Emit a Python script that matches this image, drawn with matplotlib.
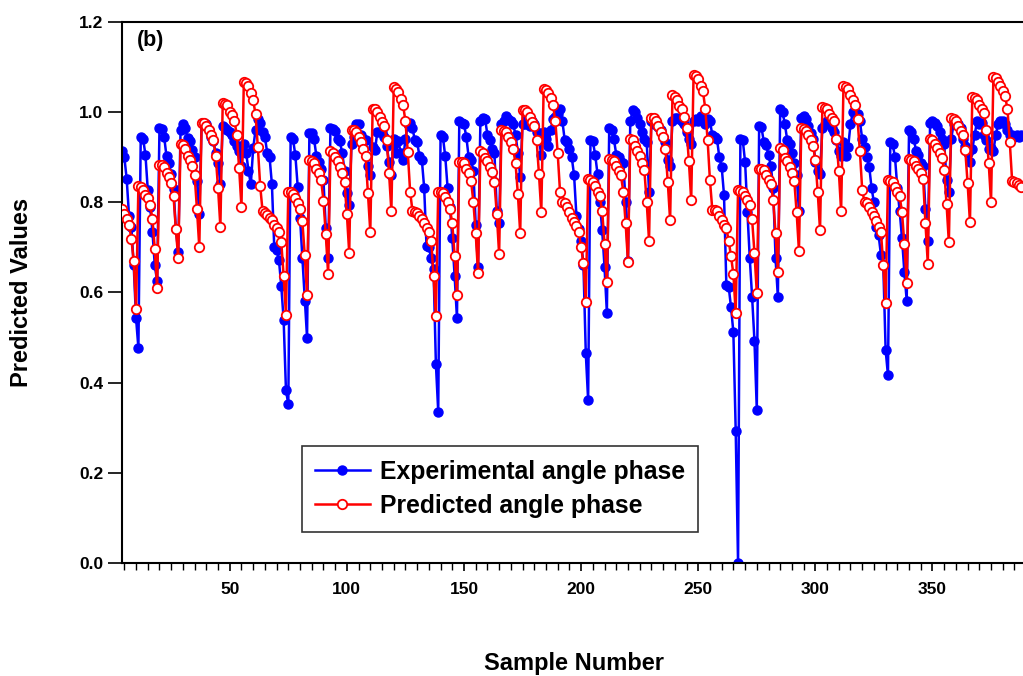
import numpy as np
import matplotlib
matplotlib.use("Agg")
import matplotlib.pyplot as plt

plt.rcParams['font.family'] = ['Liberation Sans', 'DejaVu Sans']
plt.rcParams['font.weight'] = 'bold'

# predicted angle phase (red), samples 4..388
pred_start = [0.785, 0.774, 0.763, 0.750, 0.719, 0.670, 0.563]
pred_c1 = [0.836, 0.834, 0.828, 0.817, 0.809, 0.795, 0.763, 0.696, 0.610,
           0.883, 0.883, 0.879, 0.865, 0.856, 0.842, 0.813, 0.740, 0.676,
           0.930, 0.927, 0.918, 0.903, 0.895, 0.880, 0.860, 0.785, 0.700,
           0.977, 0.975, 0.970, 0.960, 0.950, 0.938, 0.903, 0.832, 0.746,
           1.021, 1.019, 1.015, 1.000, 0.993, 0.981, 0.950, 0.876, 0.790,
           1.066, 1.064, 1.058, 1.043, 1.026, 0.996, 0.922, 0.836, 0.781, 0.777,
           0.773, 0.765, 0.760, 0.750, 0.742, 0.735, 0.711, 0.637, 0.551]
pred_c2 = [0.824, 0.824, 0.819, 0.809, 0.799, 0.785, 0.758, 0.684, 0.594,
           0.893, 0.891, 0.887, 0.875, 0.864, 0.850, 0.804, 0.729, 0.641,
           0.914, 0.910, 0.901, 0.891, 0.879, 0.864, 0.844, 0.774, 0.688,
           0.961, 0.961, 0.957, 0.945, 0.934, 0.918, 0.903, 0.820, 0.735,
           1.008, 1.006, 1.000, 0.989, 0.979, 0.969, 0.938, 0.865, 0.781,
           1.055, 1.051, 1.045, 1.030, 1.016, 0.980, 0.912, 0.824, 0.781, 0.779,
           0.776, 0.770, 0.762, 0.754, 0.742, 0.735, 0.715, 0.637, 0.547]
pred_c3 = [0.824, 0.822, 0.820, 0.812, 0.801, 0.785, 0.754, 0.680, 0.594,
           0.890, 0.890, 0.887, 0.875, 0.864, 0.848, 0.801, 0.731, 0.643,
           0.914, 0.910, 0.899, 0.891, 0.879, 0.868, 0.844, 0.774, 0.685,
           0.960, 0.958, 0.957, 0.945, 0.934, 0.918, 0.887, 0.818, 0.732,
           1.005, 1.004, 1.000, 0.989, 0.979, 0.969, 0.938, 0.863, 0.778,
           1.052, 1.050, 1.043, 1.031, 1.016, 0.980, 0.909, 0.823, 0.800, 0.798,
           0.790, 0.778, 0.765, 0.757, 0.748, 0.735, 0.700, 0.665, 0.578]
pred_c4 = [0.852, 0.850, 0.846, 0.836, 0.824, 0.813, 0.781, 0.707, 0.623,
           0.896, 0.895, 0.891, 0.881, 0.870, 0.860, 0.824, 0.754, 0.668,
           0.941, 0.938, 0.926, 0.914, 0.902, 0.887, 0.871, 0.800, 0.715,
           0.988, 0.986, 0.980, 0.969, 0.957, 0.945, 0.918, 0.844, 0.760,
           1.037, 1.034, 1.027, 1.014, 1.006, 0.990, 0.965, 0.891, 0.805,
           1.082, 1.080, 1.074, 1.059, 1.047, 1.008, 0.938, 0.849, 0.784, 0.782,
           0.780, 0.770, 0.760, 0.750, 0.742, 0.715, 0.680, 0.641, 0.555]
pred_c5 = [0.828, 0.826, 0.824, 0.813, 0.805, 0.793, 0.762, 0.688, 0.600,
           0.875, 0.875, 0.871, 0.860, 0.850, 0.840, 0.805, 0.732, 0.646,
           0.920, 0.915, 0.899, 0.891, 0.879, 0.864, 0.848, 0.778, 0.692,
           0.965, 0.963, 0.959, 0.949, 0.938, 0.926, 0.895, 0.823, 0.738,
           1.012, 1.010, 1.006, 0.996, 0.988, 0.981, 0.941, 0.870, 0.781,
           1.057, 1.055, 1.051, 1.039, 1.028, 1.016, 0.984, 0.914, 0.828, 0.800,
           0.798, 0.790, 0.778, 0.770, 0.758, 0.745, 0.735, 0.660, 0.576]
pred_c6 = [0.849, 0.848, 0.844, 0.834, 0.824, 0.813, 0.778, 0.707, 0.621,
           0.896, 0.895, 0.891, 0.881, 0.873, 0.864, 0.852, 0.754, 0.664,
           0.940, 0.938, 0.930, 0.920, 0.910, 0.899, 0.871, 0.797, 0.711,
           0.987, 0.984, 0.980, 0.969, 0.959, 0.949, 0.916, 0.842, 0.756,
           1.034, 1.031, 1.026, 1.016, 1.008, 0.998, 0.961, 0.887, 0.801,
           1.078, 1.075, 1.067, 1.059, 1.047, 1.035, 1.008, 0.934, 0.848, 0.845,
           0.843, 0.838, 0.833]

# experimental angle phase (blue)
exp_start = [0.914, 0.900, 0.852, 0.770, 0.745, 0.660, 0.543, 0.477]
exp_c1 = [0.945, 0.941, 0.906, 0.828, 0.790, 0.735, 0.660, 0.625,
          0.965, 0.963, 0.945, 0.902, 0.887, 0.863, 0.830, 0.740, 0.690,
          0.961, 0.973, 0.965, 0.943, 0.935, 0.915, 0.900, 0.848, 0.774,
          0.977, 0.975, 0.973, 0.960, 0.945, 0.935, 0.910, 0.887, 0.840,
          0.970, 0.965, 0.960, 0.955, 0.950, 0.935, 0.925, 0.914, 0.880,
          0.930, 0.910, 0.870, 0.840, 0.920, 0.960, 0.985, 0.975, 0.955, 0.945,
          0.910, 0.900, 0.840, 0.700, 0.695, 0.672, 0.614, 0.540, 0.383, 0.352]
exp_c2 = [0.945, 0.940, 0.905, 0.835, 0.766, 0.676, 0.582, 0.500,
          0.953, 0.953, 0.940, 0.902, 0.890, 0.875, 0.850, 0.742, 0.676,
          0.965, 0.962, 0.958, 0.941, 0.935, 0.910, 0.870, 0.820, 0.793,
          0.930, 0.945, 0.973, 0.973, 0.950, 0.941, 0.938, 0.880, 0.860,
          0.922, 0.915, 0.957, 0.955, 0.957, 0.945, 0.925, 0.890, 0.860,
          0.940, 0.910, 0.935, 0.910, 0.895, 0.940, 0.973, 0.975, 0.965, 0.938,
          0.934, 0.902, 0.895, 0.832, 0.703, 0.700, 0.676, 0.653, 0.442, 0.336]
exp_c3 = [0.950, 0.945, 0.902, 0.832, 0.790, 0.720, 0.637, 0.543,
          0.980, 0.976, 0.973, 0.945, 0.900, 0.895, 0.870, 0.750, 0.657,
          0.980, 0.988, 0.985, 0.950, 0.938, 0.918, 0.910, 0.780, 0.754,
          0.973, 0.980, 0.992, 0.985, 0.980, 0.973, 0.950, 0.910, 0.856,
          0.973, 0.973, 0.985, 0.969, 0.980, 0.973, 0.957, 0.938, 0.905,
          0.955, 0.940, 0.925, 0.960, 0.985, 0.990, 0.995, 1.008, 0.980, 0.938,
          0.934, 0.918, 0.900, 0.860, 0.770, 0.740, 0.715, 0.660, 0.465, 0.361]
exp_c4 = [0.938, 0.935, 0.906, 0.863, 0.800, 0.738, 0.656, 0.555,
          0.965, 0.960, 0.940, 0.906, 0.900, 0.890, 0.887, 0.800, 0.670,
          0.980, 1.004, 1.000, 0.988, 0.973, 0.957, 0.941, 0.934, 0.824,
          0.980, 0.973, 0.973, 0.966, 0.961, 0.945, 0.934, 0.895, 0.880,
          0.980, 0.988, 0.988, 0.984, 0.980, 0.973, 0.957, 0.941, 0.930,
          0.980, 0.984, 0.980, 0.992, 0.988, 0.973, 0.984, 0.980, 0.950, 0.945,
          0.941, 0.900, 0.879, 0.817, 0.617, 0.613, 0.567, 0.512, 0.293, 0.000]
exp_c5 = [0.941, 0.938, 0.890, 0.778, 0.676, 0.590, 0.493, 0.340,
          0.969, 0.966, 0.934, 0.927, 0.905, 0.880, 0.832, 0.676, 0.590,
          1.008, 1.000, 0.973, 0.938, 0.930, 0.910, 0.887, 0.860, 0.781,
          0.988, 0.992, 0.984, 0.969, 0.953, 0.941, 0.890, 0.870, 0.863,
          0.965, 0.973, 0.980, 0.973, 0.965, 0.957, 0.938, 0.914, 0.902,
          0.934, 0.902, 0.922, 0.973, 1.000, 1.000, 0.995, 0.980, 0.941, 0.922,
          0.900, 0.879, 0.832, 0.800, 0.746, 0.727, 0.684, 0.660, 0.473, 0.416]
exp_c6 = [0.934, 0.930, 0.900, 0.832, 0.780, 0.720, 0.645, 0.582,
          0.961, 0.957, 0.941, 0.914, 0.906, 0.887, 0.880, 0.785, 0.715,
          0.977, 0.980, 0.977, 0.969, 0.957, 0.941, 0.930, 0.850, 0.824,
          0.941, 0.973, 0.973, 0.973, 0.965, 0.941, 0.925, 0.910, 0.890,
          0.918, 0.949, 0.980, 0.973, 0.977, 0.949, 0.938, 0.918, 0.920,
          0.914, 0.949, 0.973, 0.980, 0.980, 0.973, 0.960, 0.950, 0.950, 0.945,
          0.950, 0.945, 0.950]

predicted = pred_start + pred_c1 + pred_c2 + pred_c3 + pred_c4 + pred_c5 + pred_c6
experimental = exp_start + exp_c1 + exp_c2 + exp_c3 + exp_c4 + exp_c5 + exp_c6
first_sample = 4
samples = np.arange(first_sample, first_sample + len(predicted))

W, H = 1023, 676
fig = plt.figure(figsize=(W / 100, H / 100), dpi=100)
ax = fig.add_axes([122 / W, (H - 563) / H, 903 / W, 541 / H])

ax.plot(samples, experimental, '-o', color='blue', lw=1.8, ms=6.5,
        mfc='blue', mec='blue', label='Experimental angle phase', zorder=2)
ax.plot(samples, predicted, '-o', color='red', lw=1.8, ms=6.8,
        mfc='white', mec='red', mew=1.3, label='Predicted angle phase', zorder=3)

ax.set_xlim(first_sample, first_sample + 385.5)
ax.set_ylim(0, 1.2)
ax.set_xticks([50, 100, 150, 200, 250, 300, 350])
ax.set_xticks(np.arange(5, 390, 5), minor=True)
ax.set_yticks(np.arange(0, 1.21, 0.2))
ax.set_yticklabels(['%.1f' % v for v in np.arange(0, 1.21, 0.2)])
ax.tick_params(axis='both', labelsize=12.5, width=1.2, direction='out')
ax.tick_params(axis='y', length=10)
ax.tick_params(axis='x', which='major', length=6, pad=8)
ax.tick_params(axis='x', which='minor', length=5, width=1.0)
for lab in ax.get_xticklabels() + ax.get_yticklabels():
    lab.set_fontweight('bold')
for s in ax.spines.values():
    s.set_linewidth(1.5)

ax.set_xlabel('Sample Number', fontsize=17, fontweight='bold', labelpad=39)
ax.set_ylabel('Predicted Values', fontsize=17, fontweight='bold', labelpad=33)
ax.text(0.017, 0.985, '(b)', transform=ax.transAxes, fontsize=15.5,
        fontweight='bold', va='top', ha='left')

leg = ax.legend(loc='lower left', bbox_to_anchor=(0.199, 0.058), fontsize=17.8,
                frameon=True, fancybox=False, edgecolor='black',
                handlelength=2.2, handletextpad=0.4, borderpad=0.55,
                labelspacing=0.42, borderaxespad=0)
leg.get_frame().set_linewidth(1.2)
for t in leg.get_texts():
    t.set_fontweight('bold')

fig.savefig('out.png', dpi=100)
